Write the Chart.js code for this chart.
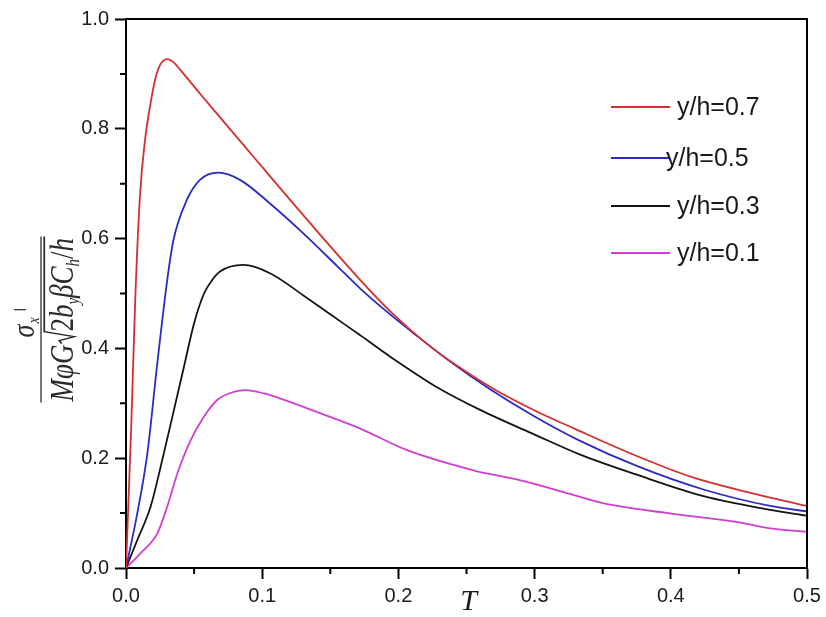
<!DOCTYPE html>
<html>
<head>
<meta charset="utf-8">
<script src="https://cdn.jsdelivr.net/npm/chart.js@4.4.0/dist/chart.umd.min.js"></script>
<style>
  html, body { margin: 0; padding: 0; background: #fff; }
  #wrap { width: 826px; height: 617px; }
</style>
</head>
<body>
<div id="wrap"><canvas id="stress" width="826" height="617"></canvas></div>
<script>
// normalised stress against T, one pair of arrays per depth ratio
const tTop = [0, 0.004, 0.0068, 0.0103, 0.014, 0.0176, 0.0213, 0.025, 0.030, 0.035, 0.040, 0.055, 0.070, 0.095, 0.120, 0.145, 0.170, 0.195, 0.220, 0.245, 0.270, 0.300, 0.330, 0.375, 0.415, 0.450, 0.500];
const sTop = [0, 0.27, 0.49, 0.68, 0.78, 0.84, 0.889, 0.916, 0.927, 0.921, 0.907, 0.862, 0.818, 0.745, 0.672, 0.600, 0.530, 0.465, 0.410, 0.365, 0.326, 0.287, 0.253, 0.204, 0.166, 0.142, 0.113];

const tMid = [0, 0.0083, 0.0157, 0.023, 0.0303, 0.0348, 0.0446, 0.0543, 0.0678, 0.0837, 0.1057, 0.130, 0.155, 0.172, 0.191, 0.210, 0.238, 0.267, 0.300, 0.333, 0.375, 0.424, 0.473, 0.500];
const sMid = [0, 0.10, 0.209, 0.373, 0.525, 0.597, 0.670, 0.707, 0.720, 0.707, 0.664, 0.610, 0.550, 0.509, 0.468, 0.430, 0.376, 0.326, 0.276, 0.232, 0.186, 0.143, 0.113, 0.103];

const tLow = [0, 0.0083, 0.0181, 0.0255, 0.0352, 0.0426, 0.050, 0.0573, 0.0634, 0.069, 0.0861, 0.1057, 0.130, 0.150, 0.172, 0.194, 0.2306, 0.260, 0.300, 0.333, 0.375, 0.424, 0.473, 0.500];
const sLow = [0, 0.051, 0.112, 0.185, 0.288, 0.367, 0.446, 0.500, 0.525, 0.540, 0.552, 0.537, 0.497, 0.462, 0.424, 0.385, 0.326, 0.288, 0.243, 0.207, 0.170, 0.131, 0.106, 0.095];

const tBase = [0, 0.0108, 0.023, 0.0303, 0.0377, 0.0475, 0.0573, 0.067, 0.0793, 0.0879, 0.1013, 0.113, 0.1425, 0.172, 0.206, 0.255, 0.289, 0.326, 0.350, 0.399, 0.448, 0.473, 0.500];
const sBase = [0, 0.027, 0.063, 0.112, 0.172, 0.233, 0.276, 0.306, 0.321, 0.324, 0.318, 0.309, 0.282, 0.254, 0.215, 0.178, 0.160, 0.135, 0.118, 0.0996, 0.084, 0.072, 0.066];

const seriesLabels = ["y/h=0.7", "y/h=0.5", "y/h=0.3", "y/h=0.1"];
const seriesColors = ["#d42f2f", "#2b2bc4", "#141414", "#d23dd2"];

const xRange = [0, 0.5];
const yRange = [0, 1.0];

const sansFont = 'Arial, "Liberation Sans", sans-serif';
const serifFont = '"Liberation Serif", "Times New Roman", serif';

function pairs(ts, vs) {
  return ts.map((t, i) => ({ x: t, y: vs[i] }));
}

const curves = [[tTop, sTop], [tMid, sMid], [tLow, sLow], [tBase, sBase]];

const datasets = curves.map(([ts, vs], i) => ({
  label: seriesLabels[i],
  data: pairs(ts, vs),
  borderColor: seriesColors[i],
  borderWidth: 1.8,
  pointRadius: 0,
  fill: false,
  cubicInterpolationMode: "monotone"
}));

// minor ticks, frame, axis titles and the legend box
const decorations = {
  id: "decorations",
  afterDraw(chart) {
    const { ctx, chartArea: a } = chart;
    const xs = chart.scales.x, ys = chart.scales.y;
    ctx.save();
    ctx.strokeStyle = "#000";
    ctx.lineWidth = 2;
    ctx.beginPath();
    ctx.moveTo(a.left - 1, a.top);
    ctx.lineTo(a.right, a.top);
    ctx.lineTo(a.right, a.bottom);
    ctx.stroke();

    ctx.beginPath();
    xs.ticks.forEach((t, i) => {
      if (i % 2 === 0) return;
      const px = xs.getPixelForTick(i);
      ctx.moveTo(px, a.bottom);
      ctx.lineTo(px, a.bottom + 6);
    });
    ys.ticks.forEach((t, i) => {
      if (i % 2 === 0) return;
      const py = ys.getPixelForTick(i);
      ctx.moveTo(a.left, py);
      ctx.lineTo(a.left - 6, py);
    });
    ctx.stroke();

    // x title
    ctx.fillStyle = "#1a1a1a";
    ctx.font = "italic 30px " + serifFont;
    ctx.textAlign = "center";
    ctx.textBaseline = "alphabetic";
    ctx.fillText("T", (a.left + a.right) / 2 + 2, a.bottom + 42);

    drawYTitle(ctx, a.left - 85, (a.top + a.bottom) / 2 + 26);

    // legend
    const rows = [107, 158, 206, 253];
    ctx.font = "25px " + sansFont;
    ctx.textAlign = "left";
    ctx.textBaseline = "middle";
    chart.data.datasets.forEach((ds, i) => {
      const y = rows[i];
      ctx.strokeStyle = ds.borderColor;
      ctx.lineWidth = 1.8;
      ctx.beginPath();
      ctx.moveTo(611, y);
      ctx.lineTo(670, y);
      ctx.stroke();
      ctx.fillStyle = "#1a1a1a";
      ctx.fillText(ds.label, i === 1 ? 666 : 677, y + 1);
    });
    ctx.restore();
  }
};

function drawYTitle(ctx, cx, cy) {
  const it = s => "italic " + s + "px " + serifFont;
  const up = s => s + "px " + serifFont;
  ctx.save();
  ctx.translate(cx, cy);
  ctx.scale(1.25, 1);
  ctx.rotate(-Math.PI / 2);
  ctx.textAlign = "left";
  ctx.textBaseline = "alphabetic";

  // fraction bar
  ctx.strokeStyle = "#6e6e6e";
  ctx.lineWidth = 1.5;
  ctx.beginPath();
  ctx.moveTo(-83, 0);
  ctx.lineTo(83, 0);
  ctx.stroke();

  ctx.fillStyle = "#2a2a2a";
  // numerator
  ctx.font = it(26);
  ctx.fillText("σ", -18, -6);
  ctx.font = it(14);
  ctx.fillText("x", -4, -2);
  ctx.font = "13px " + sansFont;
  ctx.fillText("I", 8, -12);

  // denominator
  const base = 25.6;
  let u = -82;
  const seg = (text, font, dy) => {
    ctx.font = font;
    ctx.fillText(text, u, base + dy);
    u += ctx.measureText(text).width;
  };
  seg("M", it(27), 0);
  seg("φ", it(27), 0);
  seg("G", it(27), 0);
  const r0 = u + 1;
  ctx.strokeStyle = "#2a2a2a";
  ctx.lineWidth = 1.4;
  ctx.beginPath();
  ctx.moveTo(r0, base - 9);
  ctx.lineTo(r0 + 3, base - 11);
  ctx.lineTo(r0 + 7, base + 1);
  ctx.lineTo(r0 + 12, 2.6);
  ctx.lineTo(83, 2.6);
  ctx.stroke();
  u = r0 + 12;
  seg("2", up(27), 0);
  seg("b", it(27), 0);
  seg("y", it(15), 5);
  seg("β", it(27), 0);
  seg("C", it(27), 0);
  seg("h", it(15), 5);
  seg("/", up(27), 0);
  seg("h", it(27), 0);
  ctx.restore();
}

const tickFont = { family: sansFont, size: 20 };

new Chart(document.getElementById("stress"), {
  type: "line",
  data: { datasets },
  options: {
    responsive: false,
    animation: false,
    events: [],
    layout: { padding: { left: 0, right: 19, top: 19, bottom: 0 } },
    plugins: { legend: { display: false }, tooltip: { enabled: false } },
    scales: {
      x: {
        type: "linear",
        min: xRange[0],
        max: xRange[1],
        border: { display: true, color: "#000", width: 2 },
        grid: {
          drawOnChartArea: false,
          drawTicks: true,
          tickLength: 11,
          tickWidth: 2,
          tickColor: c => (c.index % 2 ? "rgba(0,0,0,0)" : "#000")
        },
        ticks: {
          stepSize: 0.05,
          autoSkip: false,
          maxRotation: 0,
          padding: 5,
          color: "#1a1a1a",
          font: tickFont,
          callback: (v, i) => (i % 2 === 0 ? v.toFixed(1) : "")
        },
        afterFit(scale) {
          scale.height = 49;
          scale.paddingLeft = 0;
          scale.paddingRight = 0;
        }
      },
      y: {
        type: "linear",
        min: yRange[0],
        max: yRange[1],
        border: { display: true, color: "#000", width: 2 },
        grid: {
          drawOnChartArea: false,
          drawTicks: true,
          tickLength: 11,
          tickWidth: 2,
          tickColor: c => (c.index % 2 ? "rgba(0,0,0,0)" : "#000")
        },
        ticks: {
          stepSize: 0.1,
          autoSkip: false,
          padding: 6,
          color: "#1a1a1a",
          font: tickFont,
          callback: (v, i) => (i % 2 === 0 ? v.toFixed(1) : "")
        },
        afterFit(scale) {
          scale.width = 126;
          scale.paddingTop = 0;
          scale.paddingBottom = 0;
        }
      }
    }
  },
  plugins: [decorations]
});
</script>
</body>
</html>
